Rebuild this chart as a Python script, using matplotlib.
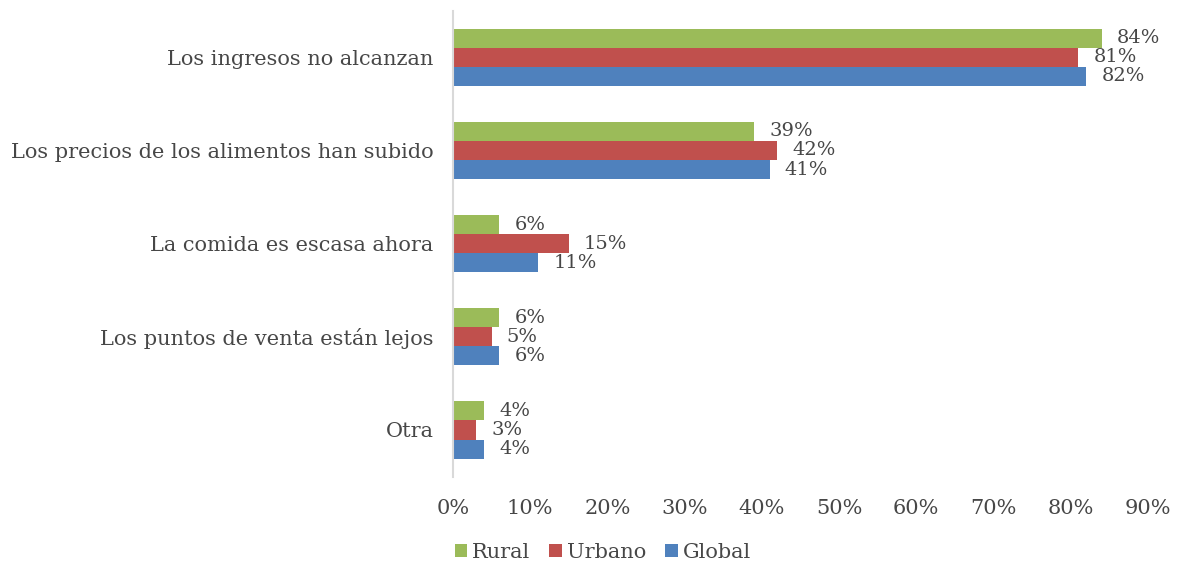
import matplotlib
matplotlib.use("Agg")
import matplotlib.pyplot as plt
import numpy as np

categories = ["Los ingresos no alcanzan",
              "Los precios de los alimentos han subido",
              "La comida es escasa ahora",
              "Los puntos de venta están lejos",
              "Otra"]
rural = [84, 39, 6, 6, 4]
urbano = [81, 42, 15, 5, 3]
global_ = [82, 41, 11, 6, 4]
series_names = ["Rural", "Urbano", "Global"]
colors = ["#9BBB59", "#C0504D", "#4F81BD"]
xticks = [0, 10, 20, 30, 40, 50, 60, 70, 80, 90]

plt.rcParams['font.family'] = ['DejaVu Serif']
txt = "#474747"

fig = plt.figure(figsize=(11.78, 5.64), dpi=100)
ax = fig.add_axes([0.3845, 0.155, 0.5900, 0.826])

y = np.arange(len(categories))
h = 0.205
data = [rural, urbano, global_]
for i, (vals, c, name) in enumerate(zip(data, colors, series_names)):
    pos = y + (i - 1) * h
    bars = ax.barh(pos, vals, height=h, color=c, label=name)
    for p, v in zip(pos, vals):
        ax.annotate(f"{v}%", xy=(v, p), xytext=(11, 0), textcoords="offset points",
                    ha="left", va="center", fontsize=14, color=txt)

ax.set_xlim(0, 90)
ax.set_ylim(4.5, -0.5)
ax.set_yticks(y)
ax.set_yticklabels(categories, fontsize=15, color=txt)
ax.set_xticks(xticks)
ax.set_xticklabels([f"{t}%" for t in xticks], fontsize=15, color=txt)
ax.tick_params(axis='both', length=0)
ax.tick_params(axis='x', pad=16)
ax.tick_params(axis='y', pad=14)
for s in ["top", "right", "bottom"]:
    ax.spines[s].set_visible(False)
ax.spines["left"].set_color("#D9D9D9")
ax.spines["left"].set_linewidth(1.5)

leg = fig.legend(loc="lower left", bbox_to_anchor=(0.370, -0.03), ncol=3, frameon=False,
                 fontsize=15, handlelength=0.6, handleheight=0.6, handletextpad=0.25,
                 columnspacing=0.9)
for t in leg.get_texts():
    t.set_color(txt)

fig.savefig("out.png", dpi=100)
